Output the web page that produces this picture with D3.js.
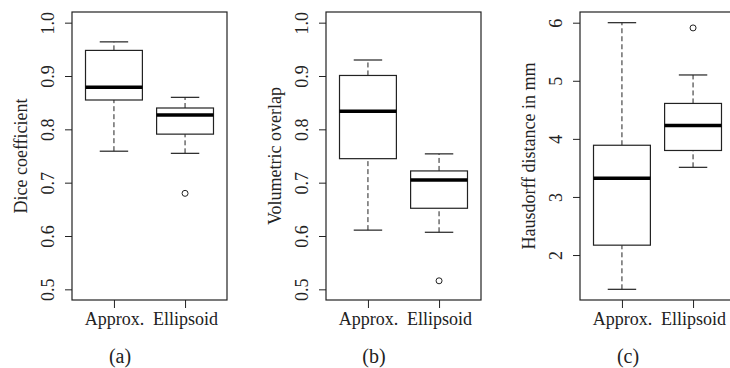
<!DOCTYPE html>
<html>
<head>
<meta charset="utf-8">
<script src="https://cdn.jsdelivr.net/npm/d3@7"></script>
<style>
  body { margin: 0; background: #fff; }
  text { font-family: "Liberation Serif", "Times New Roman", serif; fill: #222; }
</style>
</head>
<body>
<div id="app"></div>
<script>
// categories and box stats [lower whisker, Q1, median, Q3, upper whisker]
const methods = ["Approx.", "Ellipsoid"]

const diceStats = [[0.759, 0.855, 0.879, 0.948, 0.964], [0.755, 0.791, 0.827, 0.840, 0.860]]
const diceOutliers = [[], [0.680]]

const volStats = [[0.611, 0.745, 0.834, 0.901, 0.930], [0.607, 0.652, 0.705, 0.722, 0.754]]
const volOutliers = [[], [0.516]]

const hausStats = [[1.41, 2.17, 3.32, 3.89, 6.0], [3.51, 3.80, 4.23, 4.61, 5.10]]
const hausOutliers = [[], [5.91]]

const fracTicks = [0.5, 0.6, 0.7, 0.8, 0.9, 1.0]
const mmTicks = [2, 3, 4, 5, 6]

const panels = [
   {left: 72, label: "Dice coefficient", caption: "(a)", stats: diceStats, outliers: diceOutliers, domain: [0.48, 1.02], ticks: fracTicks, fmt: d3.format(".1f")},
   {left: 326, label: "Volumetric overlap", caption: "(b)", stats: volStats, outliers: volOutliers, domain: [0.48, 1.02], ticks: fracTicks, fmt: d3.format(".1f")},
   {left: 580, label: "Hausdorff distance in mm", caption: "(c)", stats: hausStats, outliers: hausOutliers, domain: [1.226, 6.184], ticks: mmTicks, fmt: d3.format("d")},
]

const width = 730
const height = 368
const plotTop = 12
const plotBottom = 300
const pw = 155
const ink = "#222"

const svg = d3.select("#app")
   .append("svg")
   .attr("width", width)
   .attr("height", height)

svg.append("rect")
   .attr("width", width)
   .attr("height", height)
   .attr("fill", "#fff")

const draw_panel = (p) => {
   let g = svg.append("g").attr("transform", `translate(${p.left},0)`)

   let x = d3.scalePoint().domain(methods).range([0, pw]).padding(0.59)
   let y = d3.scaleLinear().domain(p.domain).range([plotBottom, plotTop])
   let bw = x.step() * 0.8

   // y axis
   let ya = g.append("g").call(d3.axisLeft(y).tickValues(p.ticks).tickSize(7).tickFormat(p.fmt))
   ya.select(".domain").remove()
   ya.selectAll("line").attr("stroke", ink)
   ya.selectAll("text")
      .attr("x", 0).attr("y", -18).attr("dy", 0)
      .attr("transform", "rotate(-90)")
      .attr("text-anchor", "middle")
      .attr("font-size", "18px")
      .attr("fill", ink)

   // x axis
   let xa = g.append("g").attr("transform", `translate(0,${plotBottom})`)
      .call(d3.axisBottom(x).tickSize(8))
   xa.select(".domain").remove()
   xa.selectAll("line").attr("stroke", ink)
   xa.selectAll("text")
      .attr("y", 25).attr("dy", 0)
      .attr("font-size", "18px")
      .attr("fill", ink)

   // boxes
   let box = g.selectAll(".box")
      .data(methods.map((m, i) => ({m, s: p.stats[i], o: p.outliers[i]})))
      .join("g")
      .attr("class", "box")
      .attr("transform", d => `translate(${x(d.m)},0)`)

   box.append("line")
      .attr("y1", d => y(d.s[0])).attr("y2", d => y(d.s[1]))
      .attr("stroke", ink).attr("stroke-dasharray", "5,3")
   box.append("line")
      .attr("y1", d => y(d.s[3])).attr("y2", d => y(d.s[4]))
      .attr("stroke", ink).attr("stroke-dasharray", "5,3")
   box.selectAll(".cap")
      .data(d => [d.s[0], d.s[4]])
      .join("line")
      .attr("class", "cap")
      .attr("x1", -bw / 4).attr("x2", bw / 4)
      .attr("y1", v => y(v)).attr("y2", v => y(v))
      .attr("stroke", ink).attr("stroke-width", 1.2)
   box.append("rect")
      .attr("x", -bw / 2).attr("width", bw)
      .attr("y", d => y(d.s[3]))
      .attr("height", d => y(d.s[1]) - y(d.s[3]))
      .attr("fill", "#fff").attr("stroke", ink).attr("stroke-width", 1.2)
   box.append("line")
      .attr("x1", -bw / 2).attr("x2", bw / 2)
      .attr("y1", d => y(d.s[2])).attr("y2", d => y(d.s[2]))
      .attr("stroke", "#000").attr("stroke-width", 3.5)
   box.selectAll(".out")
      .data(d => d.o)
      .join("circle")
      .attr("class", "out")
      .attr("cy", v => y(v))
      .attr("r", 3)
      .attr("fill", "none").attr("stroke", ink)

   // frame
   g.append("rect")
      .attr("x", 0).attr("y", plotTop)
      .attr("width", pw).attr("height", plotBottom - plotTop)
      .attr("fill", "none").attr("stroke", ink).attr("stroke-width", 1.2)

   // labels
   g.append("text")
      .attr("transform", `translate(-45,${(plotTop + plotBottom) / 2}) rotate(-90)`)
      .attr("text-anchor", "middle")
      .attr("font-size", "18px")
      .text(p.label)

   g.append("text")
      .attr("x", 48).attr("y", 363)
      .attr("text-anchor", "middle")
      .attr("font-size", "20px")
      .text(p.caption)
}

panels.forEach(draw_panel)
</script>
</body>
</html>
